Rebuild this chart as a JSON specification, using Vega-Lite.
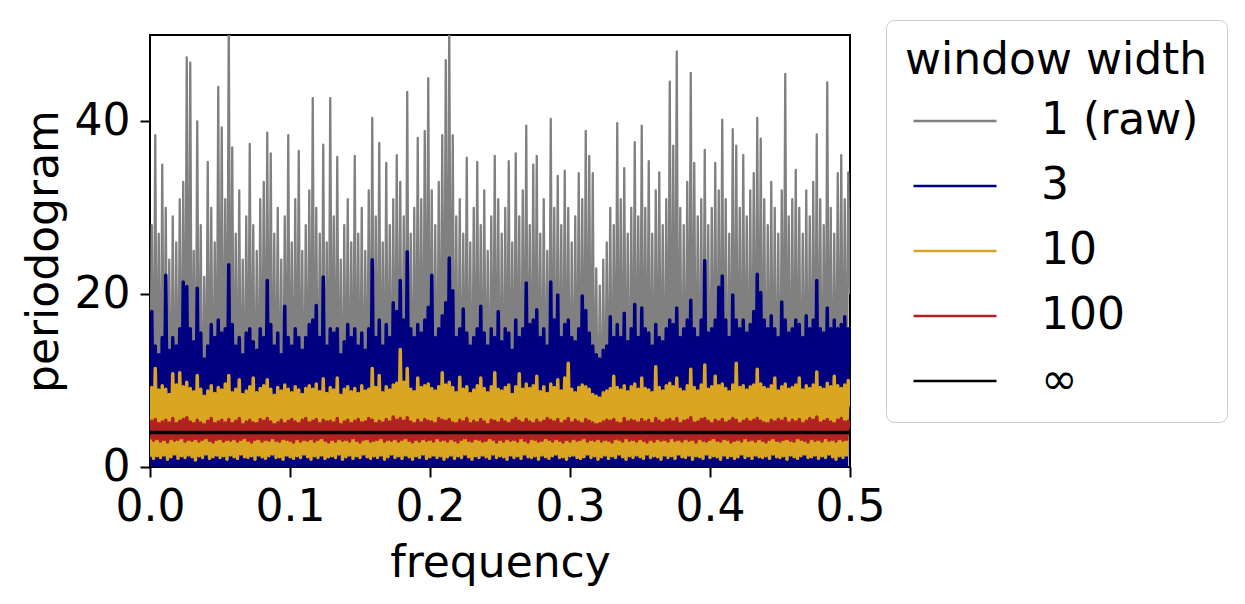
{
"$schema": "https://vega.github.io/schema/vega-lite/v6.json",
"autosize": {"type": "none"},
"padding": {"left": 150, "top": 35, "right": 395, "bottom": 137},
"width": 700,
"height": 432,
"config": {
  "font": "DejaVu Sans",
  "view": {"stroke": "black", "strokeWidth": 2},
  "axis": {"labelFont": "DejaVu Sans", "titleFont": "DejaVu Sans", "labelFontSize": 44, "titleFontSize": 44, "titleFontWeight": "normal", "labelColor": "black", "titleColor": "black", "tickColor": "black", "tickWidth": 2, "tickSize": 10, "domain": false, "grid": false, "labelOverlap": false, "labelFlush": false},
  "legend": {"labelFont": "DejaVu Sans", "titleFont": "DejaVu Sans", "labelFontSize": 44, "titleFontSize": 44, "titleFontWeight": "normal", "labelColor": "black", "titleColor": "black", "labelLimit": 400, "titleLimit": 400}
},
"data": {"values": [
{"f":0,"raw":1.1,"w3":0.15,"w10":1.2,"w100":3.2},
{"f":0.00125,"raw":28,"w3":18,"w10":9.2,"w100":5.3},
{"f":0.0025,"raw":0.6,"w3":0.1,"w10":1.0,"w100":3.1},
{"f":0.00375,"raw":38.4,"w3":14,"w10":11.4,"w100":5.5},
{"f":0.005,"raw":1.5,"w3":0.1,"w10":1.3,"w100":3.3},
{"f":0.00625,"raw":27,"w3":13,"w10":8.9,"w100":5.0},
{"f":0.0075,"raw":0.3,"w3":0.05,"w10":1.1,"w100":3.0},
{"f":0.00875,"raw":35,"w3":15,"w10":9.4,"w100":5.2},
{"f":0.01,"raw":0.9,"w3":0.15,"w10":1.4,"w100":3.2},
{"f":0.01125,"raw":30,"w3":22.2,"w10":9.0,"w100":5.4},
{"f":0.0125,"raw":2.0,"w3":0.2,"w10":0.9,"w100":2.9},
{"f":0.01375,"raw":24,"w3":13.5,"w10":8.4,"w100":5.1},
{"f":0.015,"raw":0.4,"w3":0.1,"w10":1.2,"w100":3.3},
{"f":0.01625,"raw":29,"w3":15,"w10":10.8,"w100":5.6},
{"f":0.0175,"raw":1.2,"w3":0.05,"w10":1.5,"w100":3.1},
{"f":0.01875,"raw":26,"w3":14,"w10":9.5,"w100":5.0},
{"f":0.02,"raw":0.7,"w3":0.05,"w10":1.0,"w100":3.2},
{"f":0.02125,"raw":31,"w3":16,"w10":10.9,"w100":5.3},
{"f":0.0225,"raw":1.8,"w3":0.1,"w10":1.3,"w100":3.4},
{"f":0.02375,"raw":33,"w3":21.4,"w10":9.3,"w100":5.5},
{"f":0.025,"raw":0.2,"w3":0.15,"w10":1.1,"w100":3.0},
{"f":0.02625,"raw":47.4,"w3":20.9,"w10":9.8,"w100":5.7},
{"f":0.0275,"raw":1.0,"w3":0.1,"w10":1.4,"w100":3.2},
{"f":0.02875,"raw":46.8,"w3":16,"w10":9.1,"w100":5.2},
{"f":0.03,"raw":0.5,"w3":0.2,"w10":1.2,"w100":3.1},
{"f":0.03125,"raw":25,"w3":14.5,"w10":8.7,"w100":5.0},
{"f":0.0325,"raw":1.4,"w3":0.1,"w10":0.8,"w100":3.3},
{"f":0.03375,"raw":40,"w3":20.7,"w10":10.6,"w100":5.4},
{"f":0.035,"raw":0.8,"w3":0.1,"w10":1.3,"w100":3.0},
{"f":0.03625,"raw":28,"w3":15.5,"w10":9.0,"w100":5.1},
{"f":0.0375,"raw":0.3,"w3":0.05,"w10":1.1,"w100":3.2},
{"f":0.03875,"raw":22,"w3":12.5,"w10":8.2,"w100":4.9},
{"f":0.04,"raw":1.6,"w3":0.15,"w10":1.5,"w100":3.4},
{"f":0.04125,"raw":35.3,"w3":14,"w10":8.8,"w100":5.3},
{"f":0.0425,"raw":0.6,"w3":0.05,"w10":1.0,"w100":3.1},
{"f":0.04375,"raw":30,"w3":16.5,"w10":9.4,"w100":5.6},
{"f":0.045,"raw":1.1,"w3":0.1,"w10":1.2,"w100":2.9},
{"f":0.04625,"raw":26,"w3":15,"w10":8.5,"w100":5.0},
{"f":0.0475,"raw":0.4,"w3":0.15,"w10":1.4,"w100":3.2},
{"f":0.04875,"raw":44,"w3":17,"w10":9.2,"w100":5.2},
{"f":0.05,"raw":0.9,"w3":0.05,"w10":1.1,"w100":3.3},
{"f":0.05125,"raw":39.3,"w3":15.5,"w10":8.9,"w100":5.4},
{"f":0.0525,"raw":1.3,"w3":0.1,"w10":1.3,"w100":3.0},
{"f":0.05375,"raw":31,"w3":16,"w10":9.6,"w100":5.1},
{"f":0.055,"raw":0.2,"w3":0.1,"w10":0.9,"w100":3.2},
{"f":0.05625,"raw":52,"w3":23.4,"w10":10.6,"w100":5.5},
{"f":0.0575,"raw":1.7,"w3":0.2,"w10":1.4,"w100":3.1},
{"f":0.05875,"raw":37,"w3":16.5,"w10":8.6,"w100":5.0},
{"f":0.06,"raw":0.6,"w3":0.15,"w10":1.2,"w100":3.3},
{"f":0.06125,"raw":27,"w3":14,"w10":9.0,"w100":5.3},
{"f":0.0625,"raw":1.0,"w3":0.1,"w10":1.0,"w100":3.0},
{"f":0.06375,"raw":32,"w3":15,"w10":10.1,"w100":5.6},
{"f":0.065,"raw":0.3,"w3":0.05,"w10":1.5,"w100":3.2},
{"f":0.06625,"raw":24,"w3":13,"w10":8.4,"w100":4.9},
{"f":0.0675,"raw":1.5,"w3":0.05,"w10":1.2,"w100":3.4},
{"f":0.06875,"raw":29,"w3":15.5,"w10":8.8,"w100":5.2},
{"f":0.07,"raw":0.8,"w3":0.1,"w10":1.1,"w100":3.1},
{"f":0.07125,"raw":37.4,"w3":16,"w10":9.3,"w100":5.4},
{"f":0.0725,"raw":0.4,"w3":0.15,"w10":1.3,"w100":2.9},
{"f":0.07375,"raw":28,"w3":14.5,"w10":10.3,"w100":5.1},
{"f":0.075,"raw":1.2,"w3":0.1,"w10":0.9,"w100":3.2},
{"f":0.07625,"raw":25,"w3":13.5,"w10":8.6,"w100":5.0},
{"f":0.0775,"raw":0.7,"w3":0.2,"w10":1.4,"w100":3.3},
{"f":0.07875,"raw":31,"w3":16,"w10":9.1,"w100":5.5},
{"f":0.08,"raw":1.9,"w3":0.1,"w10":1.2,"w100":3.0},
{"f":0.08125,"raw":33,"w3":15,"w10":9.4,"w100":5.3},
{"f":0.0825,"raw":0.5,"w3":0.1,"w10":1.0,"w100":3.2},
{"f":0.08375,"raw":38.7,"w3":21.6,"w10":10.1,"w100":5.6},
{"f":0.085,"raw":1.0,"w3":0.05,"w10":1.3,"w100":3.1},
{"f":0.08625,"raw":36.3,"w3":16.5,"w10":9.0,"w100":5.2},
{"f":0.0875,"raw":0.3,"w3":0.15,"w10":1.5,"w100":3.4},
{"f":0.08875,"raw":27,"w3":14,"w10":8.3,"w100":4.9},
{"f":0.09,"raw":1.4,"w3":0.05,"w10":1.1,"w100":3.1},
{"f":0.09125,"raw":30,"w3":15.5,"w10":9.2,"w100":5.1},
{"f":0.0925,"raw":0.8,"w3":0.1,"w10":1.2,"w100":3.0},
{"f":0.09375,"raw":24,"w3":13,"w10":8.8,"w100":5.4},
{"f":0.095,"raw":0.2,"w3":0.1,"w10":0.9,"w100":3.3},
{"f":0.09625,"raw":29,"w3":18.6,"w10":9.5,"w100":5.0},
{"f":0.0975,"raw":1.1,"w3":0.05,"w10":1.4,"w100":3.2},
{"f":0.09875,"raw":38.4,"w3":15,"w10":9.0,"w100":5.3},
{"f":0.1,"raw":0.6,"w3":0.15,"w10":1.2,"w100":3.1},
{"f":0.10125,"raw":26,"w3":14,"w10":8.6,"w100":5.5},
{"f":0.1025,"raw":1.6,"w3":0.2,"w10":1.0,"w100":2.9},
{"f":0.10375,"raw":31,"w3":16,"w10":9.3,"w100":5.2},
{"f":0.105,"raw":0.4,"w3":0.1,"w10":1.3,"w100":3.3},
{"f":0.10625,"raw":36.6,"w3":15,"w10":8.9,"w100":5.0},
{"f":0.1075,"raw":1.0,"w3":0.15,"w10":1.1,"w100":3.0},
{"f":0.10875,"raw":25,"w3":13.5,"w10":8.4,"w100":5.4},
{"f":0.11,"raw":0.7,"w3":0.05,"w10":1.5,"w100":3.2},
{"f":0.11125,"raw":28,"w3":15,"w10":9.1,"w100":5.6},
{"f":0.1125,"raw":1.3,"w3":0.1,"w10":1.2,"w100":3.1},
{"f":0.11375,"raw":32,"w3":16.5,"w10":9.4,"w100":5.1},
{"f":0.115,"raw":0.5,"w3":0.1,"w10":0.9,"w100":3.3},
{"f":0.11625,"raw":42.7,"w3":17,"w10":9.0,"w100":5.3},
{"f":0.1175,"raw":0.9,"w3":0.05,"w10":1.3,"w100":3.0},
{"f":0.11875,"raw":30,"w3":18.7,"w10":9.6,"w100":5.5},
{"f":0.12,"raw":1.5,"w3":0.15,"w10":1.1,"w100":3.2},
{"f":0.12125,"raw":27,"w3":15,"w10":8.7,"w100":5.0},
{"f":0.1225,"raw":0.3,"w3":0.1,"w10":1.4,"w100":3.4},
{"f":0.12375,"raw":37.3,"w3":22,"w10":10.2,"w100":5.4},
{"f":0.125,"raw":1.2,"w3":0.1,"w10":1.0,"w100":3.1},
{"f":0.12625,"raw":26,"w3":14,"w10":8.5,"w100":5.2},
{"f":0.1275,"raw":0.6,"w3":0.05,"w10":1.2,"w100":2.9},
{"f":0.12875,"raw":42.7,"w3":16,"w10":9.2,"w100":5.3},
{"f":0.13,"raw":1.8,"w3":0.2,"w10":1.3,"w100":3.2},
{"f":0.13125,"raw":29,"w3":15.5,"w10":8.9,"w100":5.1},
{"f":0.1325,"raw":0.4,"w3":0.1,"w10":1.1,"w100":3.0},
{"f":0.13375,"raw":35.9,"w3":16,"w10":10.3,"w100":5.6},
{"f":0.135,"raw":1.0,"w3":0.15,"w10":1.5,"w100":3.3},
{"f":0.13625,"raw":24,"w3":13,"w10":8.3,"w100":4.9},
{"f":0.1375,"raw":0.7,"w3":0.05,"w10":0.9,"w100":3.1},
{"f":0.13875,"raw":28,"w3":14.5,"w10":9.0,"w100":5.2},
{"f":0.14,"raw":1.3,"w3":0.1,"w10":1.2,"w100":3.2},
{"f":0.14125,"raw":31,"w3":16.5,"w10":9.3,"w100":5.4},
{"f":0.1425,"raw":0.2,"w3":0.1,"w10":1.4,"w100":3.0},
{"f":0.14375,"raw":26,"w3":15,"w10":8.7,"w100":5.0},
{"f":0.145,"raw":1.1,"w3":0.05,"w10":1.0,"w100":3.4},
{"f":0.14625,"raw":36,"w3":16,"w10":9.1,"w100":5.3},
{"f":0.1475,"raw":0.8,"w3":0.15,"w10":1.3,"w100":3.1},
{"f":0.14875,"raw":27,"w3":14,"w10":8.5,"w100":5.5},
{"f":0.15,"raw":1.4,"w3":0.05,"w10":1.1,"w100":2.9},
{"f":0.15125,"raw":30,"w3":15.5,"w10":9.4,"w100":5.1},
{"f":0.1525,"raw":0.5,"w3":0.1,"w10":1.5,"w100":3.2},
{"f":0.15375,"raw":25,"w3":13.5,"w10":8.8,"w100":5.2},
{"f":0.155,"raw":1.7,"w3":0.1,"w10":1.2,"w100":3.3},
{"f":0.15625,"raw":32,"w3":16,"w10":9.0,"w100":5.6},
{"f":0.1575,"raw":0.3,"w3":0.2,"w10":1.0,"w100":3.0},
{"f":0.15875,"raw":40.4,"w3":24,"w10":11.4,"w100":5.4},
{"f":0.16,"raw":0.9,"w3":0.15,"w10":1.3,"w100":3.1},
{"f":0.16125,"raw":29,"w3":15,"w10":9.2,"w100":5.0},
{"f":0.1625,"raw":1.2,"w3":0.05,"w10":1.1,"w100":3.2},
{"f":0.16375,"raw":37.5,"w3":17,"w10":10.6,"w100":5.3},
{"f":0.165,"raw":0.6,"w3":0.1,"w10":1.4,"w100":3.4},
{"f":0.16625,"raw":26,"w3":14,"w10":8.6,"w100":5.1},
{"f":0.1675,"raw":1.5,"w3":0.1,"w10":0.9,"w100":3.0},
{"f":0.16875,"raw":35.2,"w3":16.5,"w10":9.3,"w100":5.5},
{"f":0.17,"raw":0.4,"w3":0.05,"w10":1.2,"w100":3.2},
{"f":0.17125,"raw":28,"w3":15,"w10":8.9,"w100":5.2},
{"f":0.1725,"raw":1.0,"w3":0.15,"w10":1.5,"w100":3.1},
{"f":0.17375,"raw":31,"w3":19,"w10":9.5,"w100":5.8},
{"f":0.175,"raw":0.7,"w3":0.05,"w10":1.1,"w100":3.3},
{"f":0.17625,"raw":36.1,"w3":18,"w10":9.7,"w100":5.4},
{"f":0.1775,"raw":1.3,"w3":0.1,"w10":1.3,"w100":3.0},
{"f":0.17875,"raw":33,"w3":21.6,"w10":13.6,"w100":5.6},
{"f":0.18,"raw":0.5,"w3":0.1,"w10":1.0,"w100":3.2},
{"f":0.18125,"raw":29,"w3":17,"w10":9.8,"w100":5.3},
{"f":0.1825,"raw":1.8,"w3":0.2,"w10":1.4,"w100":3.4},
{"f":0.18375,"raw":43.4,"w3":24.9,"w10":11.4,"w100":5.7},
{"f":0.185,"raw":0.3,"w3":0.15,"w10":1.2,"w100":3.1},
{"f":0.18625,"raw":27,"w3":16,"w10":9.0,"w100":5.2},
{"f":0.1875,"raw":1.1,"w3":0.05,"w10":0.9,"w100":2.9},
{"f":0.18875,"raw":30,"w3":15,"w10":8.7,"w100":5.0},
{"f":0.19,"raw":0.8,"w3":0.1,"w10":1.3,"w100":3.2},
{"f":0.19125,"raw":38.1,"w3":16.5,"w10":10.3,"w100":5.4},
{"f":0.1925,"raw":1.4,"w3":0.1,"w10":1.1,"w100":3.0},
{"f":0.19375,"raw":31,"w3":15.5,"w10":9.2,"w100":5.1},
{"f":0.195,"raw":0.2,"w3":0.05,"w10":1.5,"w100":3.3},
{"f":0.19625,"raw":38.9,"w3":17,"w10":9.4,"w100":5.5},
{"f":0.1975,"raw":1.0,"w3":0.15,"w10":1.0,"w100":3.1},
{"f":0.19875,"raw":45,"w3":18.5,"w10":9.6,"w100":5.3},
{"f":0.2,"raw":0.6,"w3":0.05,"w10":1.2,"w100":3.2},
{"f":0.20125,"raw":32,"w3":22.2,"w10":9.1,"w100":5.2},
{"f":0.2025,"raw":1.6,"w3":0.1,"w10":1.4,"w100":3.0},
{"f":0.20375,"raw":28,"w3":15,"w10":8.8,"w100":5.0},
{"f":0.205,"raw":0.4,"w3":0.1,"w10":1.1,"w100":3.4},
{"f":0.20625,"raw":33,"w3":16,"w10":9.3,"w100":5.6},
{"f":0.2075,"raw":1.2,"w3":0.2,"w10":1.3,"w100":3.1},
{"f":0.20875,"raw":38.4,"w3":17.5,"w10":10.9,"w100":5.4},
{"f":0.21,"raw":0.7,"w3":0.15,"w10":0.9,"w100":3.2},
{"f":0.21125,"raw":47.1,"w3":19,"w10":9.5,"w100":5.3},
{"f":0.2125,"raw":1.5,"w3":0.05,"w10":1.2,"w100":3.0},
{"f":0.21375,"raw":52,"w3":24.2,"w10":9.8,"w100":5.5},
{"f":0.215,"raw":0.3,"w3":0.1,"w10":1.4,"w100":3.3},
{"f":0.21625,"raw":38.4,"w3":20.4,"w10":9.2,"w100":5.1},
{"f":0.2175,"raw":1.1,"w3":0.1,"w10":1.0,"w100":3.1},
{"f":0.21875,"raw":29,"w3":15,"w10":8.6,"w100":5.0},
{"f":0.22,"raw":0.9,"w3":0.05,"w10":1.3,"w100":2.9},
{"f":0.22125,"raw":31,"w3":16,"w10":10.4,"w100":5.4},
{"f":0.2225,"raw":0.4,"w3":0.15,"w10":1.1,"w100":3.2},
{"f":0.22375,"raw":27,"w3":18.3,"w10":9.0,"w100":5.2},
{"f":0.225,"raw":1.7,"w3":0.05,"w10":1.5,"w100":3.4},
{"f":0.22625,"raw":35.8,"w3":15.5,"w10":9.3,"w100":5.6},
{"f":0.2275,"raw":0.6,"w3":0.1,"w10":1.2,"w100":3.1},
{"f":0.22875,"raw":26,"w3":14,"w10":8.5,"w100":5.0},
{"f":0.23,"raw":1.3,"w3":0.1,"w10":0.9,"w100":3.0},
{"f":0.23125,"raw":30,"w3":15,"w10":8.9,"w100":5.3},
{"f":0.2325,"raw":0.2,"w3":0.2,"w10":1.3,"w100":3.3},
{"f":0.23375,"raw":35.3,"w3":16,"w10":9.4,"w100":5.1},
{"f":0.235,"raw":1.0,"w3":0.15,"w10":1.1,"w100":3.2},
{"f":0.23625,"raw":28,"w3":18.6,"w10":10.3,"w100":5.5},
{"f":0.2375,"raw":0.8,"w3":0.05,"w10":1.4,"w100":3.0},
{"f":0.23875,"raw":32,"w3":15.5,"w10":9.1,"w100":5.2},
{"f":0.24,"raw":1.4,"w3":0.1,"w10":1.2,"w100":3.1},
{"f":0.24125,"raw":25,"w3":14,"w10":8.6,"w100":4.9},
{"f":0.2425,"raw":0.5,"w3":0.1,"w10":1.0,"w100":3.4},
{"f":0.24375,"raw":29,"w3":16,"w10":9.3,"w100":5.4},
{"f":0.245,"raw":1.2,"w3":0.05,"w10":1.5,"w100":3.2},
{"f":0.24625,"raw":36,"w3":15,"w10":10.9,"w100":5.3},
{"f":0.2475,"raw":0.3,"w3":0.15,"w10":1.1,"w100":2.9},
{"f":0.24875,"raw":31,"w3":18,"w10":9.0,"w100":5.1},
{"f":0.25,"raw":0.9,"w3":0.05,"w10":1.3,"w100":3.2},
{"f":0.25125,"raw":27,"w3":14.5,"w10":8.8,"w100":5.5},
{"f":0.2525,"raw":1.6,"w3":0.1,"w10":1.2,"w100":3.0},
{"f":0.25375,"raw":30,"w3":16,"w10":9.2,"w100":5.2},
{"f":0.255,"raw":0.4,"w3":0.1,"w10":0.9,"w100":3.3},
{"f":0.25625,"raw":35.4,"w3":15.5,"w10":9.5,"w100":5.0},
{"f":0.2575,"raw":1.1,"w3":0.2,"w10":1.4,"w100":3.1},
{"f":0.25875,"raw":26,"w3":13.5,"w10":8.4,"w100":5.4},
{"f":0.26,"raw":0.7,"w3":0.15,"w10":1.1,"w100":3.2},
{"f":0.26125,"raw":36.3,"w3":17,"w10":9.3,"w100":5.6},
{"f":0.2625,"raw":1.3,"w3":0.05,"w10":1.3,"w100":3.0},
{"f":0.26375,"raw":29,"w3":15,"w10":10.8,"w100":5.3},
{"f":0.265,"raw":0.2,"w3":0.1,"w10":1.0,"w100":3.4},
{"f":0.26625,"raw":32,"w3":16,"w10":9.0,"w100":5.1},
{"f":0.2675,"raw":1.0,"w3":0.1,"w10":1.5,"w100":3.1},
{"f":0.26875,"raw":39.5,"w3":21.3,"w10":9.6,"w100":5.5},
{"f":0.27,"raw":0.6,"w3":0.05,"w10":1.2,"w100":2.9},
{"f":0.27125,"raw":28,"w3":16.5,"w10":9.1,"w100":5.2},
{"f":0.2725,"raw":1.5,"w3":0.15,"w10":1.1,"w100":3.3},
{"f":0.27375,"raw":35,"w3":17,"w10":9.4,"w100":5.0},
{"f":0.275,"raw":0.4,"w3":0.05,"w10":1.3,"w100":3.2},
{"f":0.27625,"raw":36,"w3":18.2,"w10":10.5,"w100":5.4},
{"f":0.2775,"raw":1.2,"w3":0.1,"w10":0.9,"w100":3.0},
{"f":0.27875,"raw":27,"w3":15,"w10":8.7,"w100":5.1},
{"f":0.28,"raw":0.8,"w3":0.1,"w10":1.4,"w100":3.1},
{"f":0.28125,"raw":31,"w3":16,"w10":9.3,"w100":5.3},
{"f":0.2825,"raw":1.7,"w3":0.2,"w10":1.2,"w100":3.4},
{"f":0.28375,"raw":25,"w3":14,"w10":8.5,"w100":5.6},
{"f":0.285,"raw":0.3,"w3":0.15,"w10":1.0,"w100":3.2},
{"f":0.28625,"raw":40.3,"w3":21.4,"w10":9.6,"w100":5.4},
{"f":0.2875,"raw":1.1,"w3":0.05,"w10":1.3,"w100":3.0},
{"f":0.28875,"raw":30,"w3":17,"w10":9.2,"w100":5.2},
{"f":0.29,"raw":0.5,"w3":0.1,"w10":1.5,"w100":3.3},
{"f":0.29125,"raw":33.7,"w3":19.9,"w10":10.1,"w100":5.5},
{"f":0.2925,"raw":1.4,"w3":0.1,"w10":1.1,"w100":3.1},
{"f":0.29375,"raw":28,"w3":15,"w10":8.8,"w100":5.0},
{"f":0.295,"raw":0.7,"w3":0.05,"w10":1.2,"w100":2.9},
{"f":0.29625,"raw":34.3,"w3":16.5,"w10":10.3,"w100":5.3},
{"f":0.2975,"raw":1.0,"w3":0.15,"w10":0.9,"w100":3.2},
{"f":0.29875,"raw":30,"w3":17,"w10":12,"w100":5.6},
{"f":0.3,"raw":0.2,"w3":0.05,"w10":1.3,"w100":3.0},
{"f":0.30125,"raw":26,"w3":15,"w10":9.0,"w100":5.1},
{"f":0.3025,"raw":1.6,"w3":0.1,"w10":1.4,"w100":3.3},
{"f":0.30375,"raw":29,"w3":14.5,"w10":8.6,"w100":5.4},
{"f":0.305,"raw":0.6,"w3":0.1,"w10":1.1,"w100":3.1},
{"f":0.30625,"raw":34,"w3":16,"w10":9.2,"w100":5.2},
{"f":0.3075,"raw":1.2,"w3":0.2,"w10":1.0,"w100":3.2},
{"f":0.30875,"raw":31,"w3":19.8,"w10":9.5,"w100":5.0},
{"f":0.31,"raw":0.4,"w3":0.15,"w10":1.2,"w100":3.4},
{"f":0.31125,"raw":38.9,"w3":18.1,"w10":9.3,"w100":5.5},
{"f":0.3125,"raw":1.0,"w3":0.05,"w10":1.5,"w100":3.0},
{"f":0.31375,"raw":36,"w3":15.5,"w10":9.0,"w100":5.3},
{"f":0.315,"raw":0.8,"w3":0.1,"w10":1.1,"w100":3.2},
{"f":0.31625,"raw":34,"w3":14,"w10":8.4,"w100":5.1},
{"f":0.3175,"raw":1.3,"w3":0.1,"w10":1.3,"w100":3.1},
{"f":0.31875,"raw":23,"w3":13,"w10":8.2,"w100":4.9},
{"f":0.32,"raw":0.5,"w3":0.05,"w10":0.9,"w100":3.3},
{"f":0.32125,"raw":21,"w3":12.5,"w10":8.0,"w100":5.0},
{"f":0.3225,"raw":1.1,"w3":0.15,"w10":1.2,"w100":3.0},
{"f":0.32375,"raw":24,"w3":13.5,"w10":8.6,"w100":5.2},
{"f":0.325,"raw":0.3,"w3":0.05,"w10":1.4,"w100":3.2},
{"f":0.32625,"raw":26,"w3":14,"w10":8.8,"w100":5.4},
{"f":0.3275,"raw":1.5,"w3":0.1,"w10":1.0,"w100":3.1},
{"f":0.32875,"raw":30,"w3":17.4,"w10":9.1,"w100":5.3},
{"f":0.33,"raw":0.7,"w3":0.1,"w10":1.3,"w100":2.9},
{"f":0.33125,"raw":28,"w3":15,"w10":10.5,"w100":5.5},
{"f":0.3325,"raw":1.2,"w3":0.2,"w10":1.1,"w100":3.3},
{"f":0.33375,"raw":39.8,"w3":16.5,"w10":9.2,"w100":5.1},
{"f":0.335,"raw":0.4,"w3":0.15,"w10":1.5,"w100":3.2},
{"f":0.33625,"raw":31,"w3":15,"w10":8.9,"w100":5.0},
{"f":0.3375,"raw":0.9,"w3":0.05,"w10":1.2,"w100":3.0},
{"f":0.33875,"raw":34.6,"w3":17.8,"w10":9.4,"w100":5.6},
{"f":0.34,"raw":1.6,"w3":0.1,"w10":0.9,"w100":3.4},
{"f":0.34125,"raw":27,"w3":14.5,"w10":8.7,"w100":5.2},
{"f":0.3425,"raw":0.3,"w3":0.1,"w10":1.3,"w100":3.1},
{"f":0.34375,"raw":30,"w3":16,"w10":9.3,"w100":5.4},
{"f":0.345,"raw":1.0,"w3":0.05,"w10":1.1,"w100":3.2},
{"f":0.34625,"raw":37.6,"w3":18.8,"w10":9.6,"w100":5.3},
{"f":0.3475,"raw":0.6,"w3":0.15,"w10":1.4,"w100":3.0},
{"f":0.34875,"raw":29,"w3":15,"w10":9.0,"w100":5.1},
{"f":0.35,"raw":1.4,"w3":0.05,"w10":1.2,"w100":3.3},
{"f":0.35125,"raw":39.5,"w3":18.4,"w10":10.3,"w100":5.5},
{"f":0.3525,"raw":0.2,"w3":0.1,"w10":1.0,"w100":3.1},
{"f":0.35375,"raw":30,"w3":16,"w10":9.1,"w100":5.2},
{"f":0.355,"raw":1.1,"w3":0.1,"w10":1.5,"w100":2.9},
{"f":0.35625,"raw":35.4,"w3":15.5,"w10":8.9,"w100":5.4},
{"f":0.3575,"raw":0.8,"w3":0.2,"w10":1.1,"w100":3.2},
{"f":0.35875,"raw":27,"w3":14,"w10":8.6,"w100":5.0},
{"f":0.36,"raw":1.3,"w3":0.15,"w10":1.3,"w100":3.0},
{"f":0.36125,"raw":32,"w3":16.5,"w10":11.6,"w100":5.6},
{"f":0.3625,"raw":0.5,"w3":0.05,"w10":1.2,"w100":3.3},
{"f":0.36375,"raw":34.1,"w3":15,"w10":9.2,"w100":5.3},
{"f":0.365,"raw":1.7,"w3":0.1,"w10":0.9,"w100":3.1},
{"f":0.36625,"raw":28,"w3":14.5,"w10":8.8,"w100":5.1},
{"f":0.3675,"raw":0.4,"w3":0.1,"w10":1.4,"w100":3.2},
{"f":0.36875,"raw":31,"w3":16,"w10":9.4,"w100":5.4},
{"f":0.37,"raw":1.0,"w3":0.05,"w10":1.1,"w100":3.0},
{"f":0.37125,"raw":44.6,"w3":17,"w10":9.7,"w100":5.5},
{"f":0.3725,"raw":0.7,"w3":0.15,"w10":1.3,"w100":3.4},
{"f":0.37375,"raw":37.2,"w3":16.5,"w10":9.3,"w100":5.2},
{"f":0.375,"raw":1.2,"w3":0.05,"w10":1.0,"w100":3.1},
{"f":0.37625,"raw":48.1,"w3":18.4,"w10":10.3,"w100":5.6},
{"f":0.3775,"raw":0.3,"w3":0.1,"w10":1.5,"w100":3.2},
{"f":0.37875,"raw":30,"w3":15,"w10":9.0,"w100":5.0},
{"f":0.38,"raw":1.5,"w3":0.1,"w10":1.2,"w100":3.0},
{"f":0.38125,"raw":28,"w3":16,"w10":8.7,"w100":5.3},
{"f":0.3825,"raw":0.6,"w3":0.2,"w10":1.1,"w100":3.3},
{"f":0.38375,"raw":33,"w3":17,"w10":9.4,"w100":5.4},
{"f":0.385,"raw":1.1,"w3":0.15,"w10":1.4,"w100":3.1},
{"f":0.38625,"raw":45.6,"w3":19.3,"w10":11.3,"w100":5.7},
{"f":0.3875,"raw":0.4,"w3":0.05,"w10":0.9,"w100":3.2},
{"f":0.38875,"raw":35.2,"w3":16,"w10":9.2,"w100":5.1},
{"f":0.39,"raw":0.9,"w3":0.1,"w10":1.3,"w100":2.9},
{"f":0.39125,"raw":29,"w3":15,"w10":8.8,"w100":5.2},
{"f":0.3925,"raw":1.3,"w3":0.1,"w10":1.2,"w100":3.3},
{"f":0.39375,"raw":31,"w3":17,"w10":9.5,"w100":5.5},
{"f":0.395,"raw":0.5,"w3":0.05,"w10":1.0,"w100":3.1},
{"f":0.39625,"raw":36.7,"w3":23.9,"w10":11.8,"w100":5.6},
{"f":0.3975,"raw":1.0,"w3":0.15,"w10":1.5,"w100":3.0},
{"f":0.39875,"raw":28,"w3":15.5,"w10":9.0,"w100":5.3},
{"f":0.4,"raw":0.7,"w3":0.05,"w10":1.1,"w100":3.2},
{"f":0.40125,"raw":30,"w3":16,"w10":9.3,"w100":5.0},
{"f":0.4025,"raw":1.6,"w3":0.1,"w10":1.3,"w100":3.4},
{"f":0.40375,"raw":35.2,"w3":17,"w10":10.5,"w100":5.4},
{"f":0.405,"raw":0.3,"w3":0.1,"w10":1.2,"w100":3.1},
{"f":0.40625,"raw":32,"w3":20.8,"w10":9.4,"w100":5.2},
{"f":0.4075,"raw":1.2,"w3":0.2,"w10":0.9,"w100":3.0},
{"f":0.40875,"raw":40.2,"w3":22.1,"w10":9.6,"w100":5.5},
{"f":0.41,"raw":0.8,"w3":0.15,"w10":1.4,"w100":3.3},
{"f":0.41125,"raw":31,"w3":17,"w10":9.1,"w100":5.1},
{"f":0.4125,"raw":0.4,"w3":0.05,"w10":1.1,"w100":3.2},
{"f":0.41375,"raw":27,"w3":15,"w10":8.7,"w100":5.3},
{"f":0.415,"raw":1.4,"w3":0.1,"w10":1.3,"w100":2.9},
{"f":0.41625,"raw":39.1,"w3":19.9,"w10":9.5,"w100":5.6},
{"f":0.4175,"raw":0.6,"w3":0.1,"w10":1.0,"w100":3.1},
{"f":0.41875,"raw":37.2,"w3":17,"w10":12,"w100":5.4},
{"f":0.42,"raw":1.1,"w3":0.05,"w10":1.2,"w100":3.2},
{"f":0.42125,"raw":30,"w3":16,"w10":9.2,"w100":5.0},
{"f":0.4225,"raw":0.2,"w3":0.15,"w10":1.5,"w100":3.0},
{"f":0.42375,"raw":36.1,"w3":17,"w10":9.4,"w100":5.3},
{"f":0.425,"raw":1.0,"w3":0.05,"w10":1.1,"w100":3.4},
{"f":0.42625,"raw":29,"w3":15.5,"w10":8.9,"w100":5.5},
{"f":0.4275,"raw":0.7,"w3":0.1,"w10":1.3,"w100":3.1},
{"f":0.42875,"raw":32,"w3":16.5,"w10":9.3,"w100":5.2},
{"f":0.43,"raw":1.5,"w3":0.1,"w10":1.0,"w100":3.2},
{"f":0.43125,"raw":34,"w3":18,"w10":9.5,"w100":5.4},
{"f":0.4325,"raw":0.3,"w3":0.2,"w10":1.4,"w100":3.0},
{"f":0.43375,"raw":40.4,"w3":22.3,"w10":11.3,"w100":5.6},
{"f":0.435,"raw":1.2,"w3":0.15,"w10":1.2,"w100":3.3},
{"f":0.43625,"raw":38,"w3":20.2,"w10":9.6,"w100":5.3},
{"f":0.4375,"raw":0.5,"w3":0.05,"w10":1.1,"w100":3.1},
{"f":0.43875,"raw":31,"w3":17,"w10":9.2,"w100":5.1},
{"f":0.44,"raw":0.9,"w3":0.1,"w10":1.3,"w100":2.9},
{"f":0.44125,"raw":28,"w3":16,"w10":9.0,"w100":5.0},
{"f":0.4425,"raw":1.3,"w3":0.1,"w10":1.0,"w100":3.2},
{"f":0.44375,"raw":33,"w3":17.5,"w10":9.4,"w100":5.4},
{"f":0.445,"raw":0.4,"w3":0.05,"w10":1.5,"w100":3.4},
{"f":0.44625,"raw":30,"w3":16,"w10":10.3,"w100":5.2},
{"f":0.4475,"raw":1.1,"w3":0.15,"w10":1.2,"w100":3.1},
{"f":0.44875,"raw":27,"w3":15,"w10":8.8,"w100":5.5},
{"f":0.45,"raw":0.6,"w3":0.05,"w10":1.1,"w100":3.0},
{"f":0.45125,"raw":32,"w3":19.1,"w10":9.3,"w100":5.3},
{"f":0.4525,"raw":1.7,"w3":0.1,"w10":1.3,"w100":3.2},
{"f":0.45375,"raw":45.5,"w3":17,"w10":9.6,"w100":5.6},
{"f":0.455,"raw":0.3,"w3":0.1,"w10":0.9,"w100":3.3},
{"f":0.45625,"raw":29,"w3":15.5,"w10":9.0,"w100":5.1},
{"f":0.4575,"raw":1.0,"w3":0.2,"w10":1.4,"w100":3.1},
{"f":0.45875,"raw":31,"w3":16,"w10":9.2,"w100":5.4},
{"f":0.46,"raw":0.8,"w3":0.15,"w10":1.2,"w100":3.0},
{"f":0.46125,"raw":34.4,"w3":17,"w10":9.5,"w100":5.2},
{"f":0.4625,"raw":1.4,"w3":0.05,"w10":1.0,"w100":3.4},
{"f":0.46375,"raw":30,"w3":16.5,"w10":10.3,"w100":5.5},
{"f":0.465,"raw":0.5,"w3":0.1,"w10":1.3,"w100":3.2},
{"f":0.46625,"raw":27,"w3":15,"w10":8.9,"w100":5.0},
{"f":0.4675,"raw":1.2,"w3":0.1,"w10":1.5,"w100":3.1},
{"f":0.46875,"raw":32,"w3":17.5,"w10":9.4,"w100":5.3},
{"f":0.47,"raw":0.2,"w3":0.05,"w10":1.1,"w100":2.9},
{"f":0.47125,"raw":29,"w3":16,"w10":9.1,"w100":5.6},
{"f":0.4725,"raw":1.0,"w3":0.15,"w10":1.2,"w100":3.3},
{"f":0.47375,"raw":33,"w3":17,"w10":9.5,"w100":5.4},
{"f":0.475,"raw":0.7,"w3":0.05,"w10":1.4,"w100":3.1},
{"f":0.47625,"raw":38.5,"w3":21.6,"w10":11,"w100":5.8},
{"f":0.4775,"raw":1.5,"w3":0.1,"w10":1.0,"w100":3.2},
{"f":0.47875,"raw":31,"w3":16,"w10":9.2,"w100":5.1},
{"f":0.48,"raw":0.4,"w3":0.1,"w10":1.3,"w100":3.0},
{"f":0.48125,"raw":28,"w3":15.5,"w10":9.0,"w100":5.3},
{"f":0.4825,"raw":1.1,"w3":0.2,"w10":1.1,"w100":3.4},
{"f":0.48375,"raw":44.5,"w3":18.4,"w10":9.7,"w100":5.5},
{"f":0.485,"raw":0.6,"w3":0.15,"w10":1.5,"w100":3.1},
{"f":0.48625,"raw":30,"w3":16,"w10":9.3,"w100":5.2},
{"f":0.4875,"raw":1.3,"w3":0.05,"w10":1.2,"w100":3.2},
{"f":0.48875,"raw":27,"w3":17,"w10":10.5,"w100":5.0},
{"f":0.49,"raw":0.9,"w3":0.1,"w10":0.9,"w100":3.0},
{"f":0.49125,"raw":34,"w3":16,"w10":9.4,"w100":5.4},
{"f":0.4925,"raw":0.3,"w3":0.1,"w10":1.3,"w100":3.3},
{"f":0.49375,"raw":36.1,"w3":16.5,"w10":9.1,"w100":5.6},
{"f":0.495,"raw":1.2,"w3":0.05,"w10":1.1,"w100":3.1},
{"f":0.49625,"raw":31,"w3":17.4,"w10":9.5,"w100":5.2},
{"f":0.4975,"raw":0.5,"w3":0.15,"w10":1.4,"w100":3.2},
{"f":0.49875,"raw":34.1,"w3":16,"w10":10,"w100":5.3},
{"f":0.5,"raw":20,"w3":12,"w10":7,"w100":4.5}
]},
"encoding": {
  "x": {"field": "f", "type": "quantitative", "title": "frequency",
        "scale": {"domain": [0, 0.5], "nice": false, "zero": false},
        "axis": {"values": [0, 0.1, 0.2, 0.3, 0.4, 0.5], "format": ".1f", "labelPadding": 8, "titlePadding": 12}}
},
"layer": [
  {"mark": {"type": "line", "strokeWidth": 2.3, "clip": true, "strokeJoin": "round"},
   "encoding": {
     "y": {"field": "raw", "type": "quantitative", "title": "periodogram",
           "scale": {"domain": [0, 50], "nice": false},
           "axis": {"values": [0, 20, 40], "labelPadding": 10, "titlePadding": 8}},
     "color": {"datum": "1 (raw)",
       "scale": {"domain": ["1 (raw)", "3", "10", "100", "∞"], "range": ["#808080", "#000080", "#daa520", "#b22222", "#000000"]},
       "legend": {"title": "window width", "orient": "none", "legendX": 736, "legendY": -15,
         "symbolType": "stroke", "symbolSize": 6889, "symbolStrokeWidth": 2.7, "symbolOffset": 7, "labelOffset": 43,
         "padding": 19, "titlePadding": -5, "rowPadding": 0,
         "strokeColor": "#cccccc", "fillColor": "white", "cornerRadius": 8}}
   }},
  {"mark": {"type": "line", "strokeWidth": 3.5, "clip": true, "strokeJoin": "round"},
   "encoding": {"y": {"field": "w3", "type": "quantitative", "title": "periodogram"}, "color": {"datum": "3"}}},
  {"mark": {"type": "line", "strokeWidth": 3.5, "clip": true, "strokeJoin": "round"},
   "encoding": {"y": {"field": "w10", "type": "quantitative", "title": "periodogram"}, "color": {"datum": "10"}}},
  {"mark": {"type": "line", "strokeWidth": 3.5, "clip": true, "strokeJoin": "round"},
   "encoding": {"y": {"field": "w100", "type": "quantitative", "title": "periodogram"}, "color": {"datum": "100"}}},
  {"data": {"values": [{"f": 0, "inf": 4}, {"f": 0.5, "inf": 4}]},
   "mark": {"type": "line", "strokeWidth": 3.5, "clip": true},
   "encoding": {"y": {"field": "inf", "type": "quantitative", "title": "periodogram"}, "color": {"datum": "∞"}}}
]
}
